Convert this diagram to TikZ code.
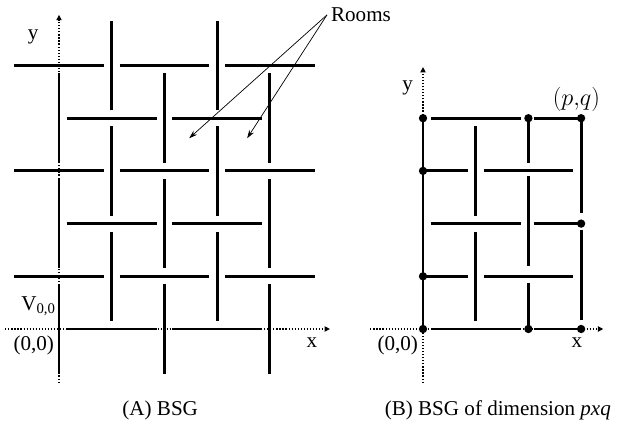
\documentclass[tikz,border=0pt]{standalone}
\usepackage{fontspec}
\setmainfont{Liberation Serif}
\usepackage{amsmath}
\usepackage{tikz}
\usetikzlibrary{arrows.meta}

\begin{document}
\begin{tikzpicture}[x=1.581cm, y=1.581cm, >=Stealth,
    font=\fontsize{18}{22}\selectfont,
    wall/.style={line width=2.4pt},
    axis/.style={line width=0.9pt, dash pattern=on 1pt off 1.6pt, -{Triangle[length=4.5pt,width=4.5pt]}},
    pointer/.style={line width=0.6pt, -{Stealth[length=7pt,width=4.5pt]}}]
    \useasboundingbox (-1.12,-1.822) rectangle (10.664,6.243);

    % (A) axes
    \coordinate (O) at (0,0);
    \coordinate (Xs) at (-1.02,0);
    \coordinate (Xe) at (5.14,0);
    \coordinate (Ys) at (0,-1.02);
    \coordinate (Ye) at (0,5.96);
    \draw[axis] (Xs) -- (Xe);
    \draw[axis] (Ys) -- (Ye);

    % (A) walls
    \foreach \j in {0,2,4} {
        \foreach \i in {1,3} \draw[wall] (\i-0.85,\j) -- (\i+0.85,\j);
        \foreach \i in {0,2,4} \draw[wall] (\i,\j-0.85) -- (\i,\j+0.85);
    }
    \foreach \j in {1,3,5} {
        \foreach \i in {0,2,4} \draw[wall] (\i-0.85,\j) -- (\i+0.85,\j);
        \foreach \i in {1,3} \draw[wall] (\i,\j-0.85) -- (\i,\j+0.85);
    }

    % (A) labels
    \node (yA) at (-0.49,5.55) {y};
    \node (xA) at (4.80,-0.26) {x};
    \node (oA) at (-0.48,-0.32) {(0,0)};
    \node (vA) at (-0.39,0.44) {V\textsubscript{0,0}};
    \node (capA) at (1.92,-1.54) {(A) BSG};

    % Rooms
    \node (rooms) at (5.73,5.96) {Rooms};
    \coordinate (R1) at (2.47,3.62);
    \coordinate (R2) at (3.57,3.62);
    \draw[pointer] (rooms.west) -- (R1);
    \draw[pointer] (rooms.west) -- (R2);

    \begin{scope}[shift={(6.907,0)}]
        % (B) axes
        \coordinate (BO) at (0,0);
        \coordinate (BXs) at (-1,0);
        \coordinate (BXe) at (3.42,0);
        \coordinate (BYs) at (0,-1.02);
        \coordinate (BYe) at (0,4.97);
        \draw[axis] (BXs) -- (BXe);
        \draw[axis] (BYs) -- (BYe);

        % (B) walls
        \draw[wall] (0,0) -- (0,4);
        \foreach \j in {0,2,4} {
            \draw[wall] (0.15,\j) -- (1.85,\j);
            \draw[wall] (2.1,\j) -- (3,\j);
        }
        \foreach \j in {1,3} {
            \draw[wall] (0,\j) -- (0.85,\j);
            \draw[wall] (1.15,\j) -- (2.85,\j);
            \draw[wall] (1,\j-0.85) -- (1,\j+0.85);
        }
        \draw[wall] (2,4) -- (2,3.15);
        \draw[wall] (2,1.2) -- (2,2.9);
        \draw[wall] (2,0) -- (2,0.87);
        \draw[wall] (3,4) -- (3,2.2);
        \draw[wall] (3,0.17) -- (3,1.87);

        % corner points
        \foreach \p in {(0,0),(0,1),(0,3),(0,4),(2,0),(2,4),(3,0),(3,2),(3,4)}
            \fill \p circle (1.25mm);

        % (B) labels
        \node (yB) at (-0.29,4.58) {y};
        \node (xB) at (2.92,-0.26) {x};
        \node (oB) at (-0.48,-0.32) {(0,0)};
        \node (pq) at (2.91,4.35) {\fontsize{20}{24}\selectfont$(p{,}q)$};
        \node (capB) at (1.42,-1.54) {(B) BSG of dimension \textit{pxq}};
    \end{scope}
\end{tikzpicture}
\end{document}
